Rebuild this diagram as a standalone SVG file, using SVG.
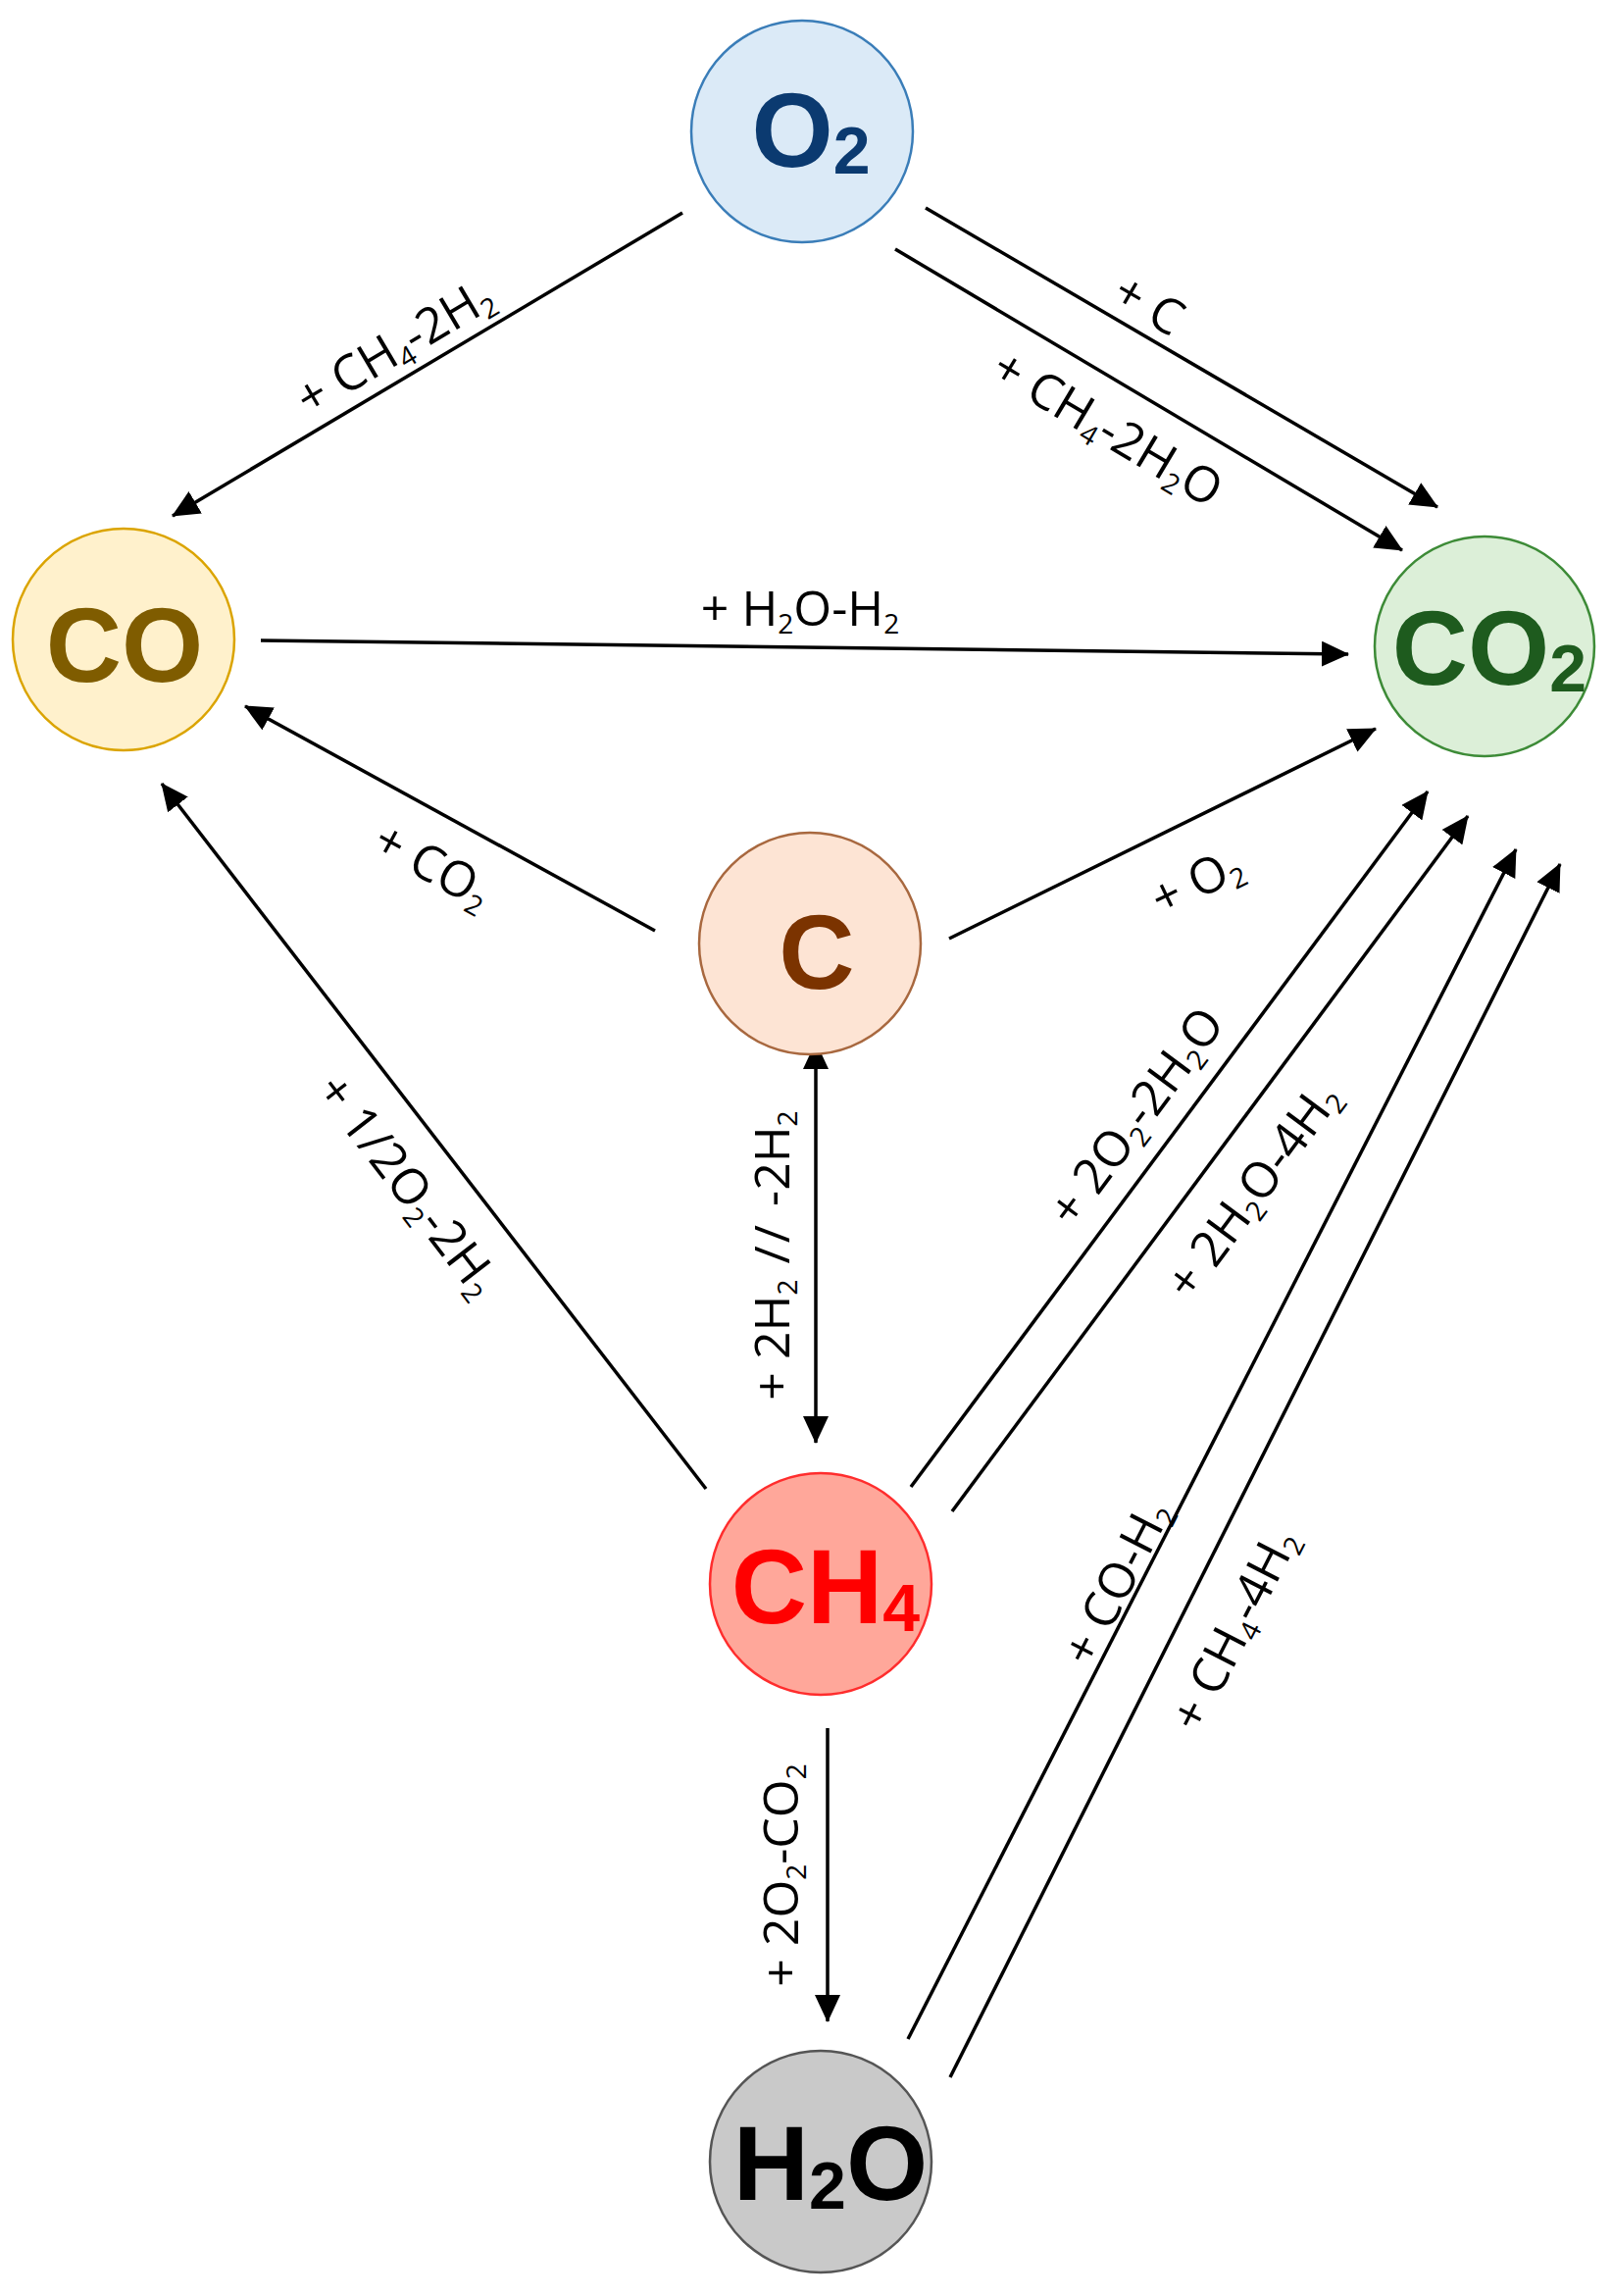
<svg xmlns="http://www.w3.org/2000/svg" width="1643" height="2341" viewBox="0 0 1643 2341">
<style>
.node{stroke-width:2.5}
.nt{font-family:"Liberation Sans",Arial,sans-serif;font-weight:bold;font-size:107px;text-anchor:middle}
.ns{font-size:68px}
.e{stroke:#000;stroke-width:3.5;fill:none;marker-end:url(#ah)}
.lb{font-family:"Open Sans","Liberation Sans",sans-serif;font-size:50px;fill:#000;text-anchor:middle}
.s{font-size:28px}
</style>
<defs>
<marker id="ah" markerUnits="userSpaceOnUse" viewBox="0 0 28 26" markerWidth="28" markerHeight="26" refX="27" refY="13" orient="auto-start-reverse">
<path d="M0,0 L28,13 L0,26 Z" fill="#000"/>
</marker>
</defs>
<rect width="1643" height="2341" fill="#fff"/>
<g id="connectors">
<line class="e" x1="696" y1="217" x2="176" y2="526"/>
<line class="e" x1="944" y1="212" x2="1466" y2="517"/>
<line class="e" x1="913" y1="254" x2="1430" y2="561"/>
<line class="e" x1="266" y1="653" x2="1375" y2="667"/>
<line class="e" x1="668" y1="949" x2="250" y2="720"/>
<line class="e" x1="968" y1="957" x2="1403" y2="743"/>
<line class="e" x1="832" y1="1063" x2="832" y2="1471" style="marker-start:url(#ah)"/>
<line class="e" x1="720" y1="1518" x2="165" y2="799"/>
<line class="e" x1="929" y1="1516" x2="1456" y2="807"/>
<line class="e" x1="971" y1="1541" x2="1497" y2="832"/>
<line class="e" x1="926" y1="2079" x2="1546" y2="866"/>
<line class="e" x1="969" y1="2118" x2="1591" y2="881"/>
<line class="e" x1="844" y1="1762" x2="844" y2="2061"/>
<g id="labels">
<text class="lb" transform="translate(402,353) rotate(-30.7)" y="18">+ CH<tspan class="s" dy="8">4</tspan><tspan dy="-8">-2H</tspan><tspan class="s" dy="8">2</tspan></text>
<text class="lb" transform="translate(1172,310) rotate(30.3)" y="18">+ C</text>
<text class="lb" transform="translate(1130,436) rotate(30.8)" y="18">+ CH<tspan class="s" dy="8">4</tspan><tspan dy="-8">-2H</tspan><tspan class="s" dy="8">2</tspan><tspan dy="-8">O</tspan></text>
<text class="lb" x="816" y="638">+ H<tspan class="s" dy="8">2</tspan><tspan dy="-8">O-H</tspan><tspan class="s" dy="8">2</tspan></text>
<text class="lb" transform="translate(442,882) rotate(28.7)" y="18">+ CO<tspan class="s" dy="8">2</tspan></text>
<text class="lb" transform="translate(1220,898) rotate(-26)" y="18">+ O<tspan class="s" dy="8">2</tspan></text>
<text class="lb" transform="translate(787,1280) rotate(-90)" y="18">+ 2H<tspan class="s" dy="8">2</tspan><tspan dy="-8" letter-spacing="3"> // </tspan><tspan dy="0">-2H</tspan><tspan class="s" dy="8">2</tspan></text>
<text class="lb" transform="translate(417,1208) rotate(52.4)" y="18">+ 1/2O<tspan class="s" dy="8">2</tspan><tspan dy="-8">-2H</tspan><tspan class="s" dy="8">2</tspan></text>
<text class="lb" transform="translate(1158,1138) rotate(-53.4)" y="18">+ 2O<tspan class="s" dy="8">2</tspan><tspan dy="-8">-2H</tspan><tspan class="s" dy="8">2</tspan><tspan dy="-8">O</tspan></text>
<text class="lb" transform="translate(1277,1213) rotate(-53.4)" y="18">+ 2H<tspan class="s" dy="8">2</tspan><tspan dy="-8">O-4H</tspan><tspan class="s" dy="8">2</tspan></text>
<text class="lb" transform="translate(1138,1613) rotate(-62.9)" y="18">+ CO-H<tspan class="s" dy="8">2</tspan></text>
<text class="lb" transform="translate(1258,1661) rotate(-62.9)" y="18">+ CH<tspan class="s" dy="8">4</tspan><tspan dy="-8">-4H</tspan><tspan class="s" dy="8">2</tspan></text>
<text class="lb" transform="translate(796,1912) rotate(-90)" y="18">+ 2O<tspan class="s" dy="8">2</tspan><tspan dy="-8">-CO</tspan><tspan class="s" dy="8">2</tspan></text>
</g>
</g>
<g id="O2">
<circle class="node" cx="818" cy="134" r="113" fill="#dbeaf7" stroke="#3a7db8"/>
<text class="nt" x="827" y="170" fill="#0b3a70">O<tspan class="ns" dy="7">2</tspan></text>
</g>
<g id="CO">
<circle class="node" cx="126" cy="652" r="113" fill="#fff1cc" stroke="#dba400"/>
<text class="nt" x="127" y="695" fill="#7f5c00">CO</text>
</g>
<g id="CO2">
<circle class="node" cx="1514" cy="659" r="112" fill="#dcefd8" stroke="#3d8b37"/>
<text class="nt" x="1519" y="698" fill="#1e5b1e">CO<tspan class="ns" dy="7">2</tspan></text>
</g>
<g id="C">
<circle class="node" cx="826" cy="962" r="113" fill="#fde4d4" stroke="#a8683f"/>
<text class="nt" x="833" y="1008" fill="#7b3300">C</text>
</g>
<g id="CH4">
<circle class="node" cx="837" cy="1615" r="113" fill="#ffa79a" stroke="#ff2d2d"/>
<text class="nt" x="842" y="1655" fill="#ff0000">CH<tspan class="ns" dy="8">4</tspan></text>
</g>
<g id="H2O">
<circle class="node" cx="837" cy="2204" r="113" fill="#c9c9c9" stroke="#555555"/>
<text class="nt" x="847" y="2243" fill="#000">H<tspan class="ns" dy="9">2</tspan><tspan dy="-9">O</tspan></text>
</g>
</svg>
